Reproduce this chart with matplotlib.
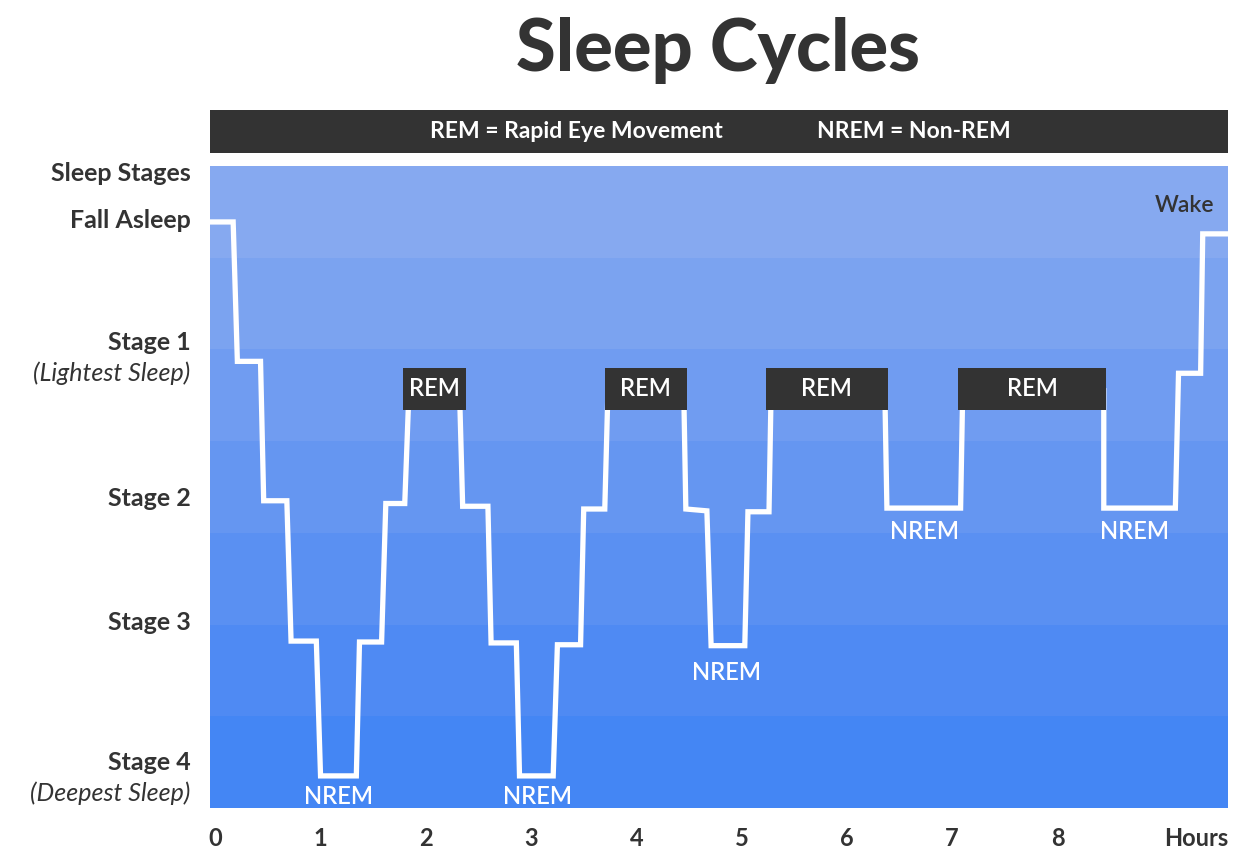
import matplotlib.pyplot as plt
from matplotlib.patches import Rectangle

plt.rcParams['font.family'] = ['Lato', 'DejaVu Sans']

# hypnogram: time in hours, depth 0 (top) .. 7 (bottom)
hours = [-0.05, 0.17, 0.21, 0.43, 0.46, 0.68, 0.72, 0.96, 1.00, 1.34, 1.37, 1.58, 1.62,
         1.80, 1.84, 2.32, 2.35, 2.59, 2.62, 2.86, 2.89, 3.21, 3.25, 3.47, 3.50, 3.70,
         3.73, 4.45, 4.47, 4.67, 4.71, 5.03, 5.06, 5.26, 5.28, 6.36, 6.38, 7.08, 7.10,
         8.44, 8.44, 9.12, 9.15, 9.36, 9.38, 9.62]
depth = [0.61, 0.61, 2.13, 2.13, 3.65, 3.65, 5.18, 5.18, 6.65, 6.65, 5.19, 5.19, 3.68,
         3.68, 2.45, 2.45, 3.71, 3.71, 5.20, 5.20, 6.65, 6.65, 5.22, 5.22, 3.74, 3.74,
         2.45, 2.45, 3.74, 3.76, 5.23, 5.23, 3.77, 3.77, 2.45, 2.45, 3.73, 3.73, 2.45,
         2.45, 3.73, 3.73, 2.26, 2.26, 0.74, 0.74]

rem_start = [1.78, 3.70, 5.23, 7.06]
rem_end = [2.38, 4.48, 6.39, 8.46]

nrem_x = [1.17, 3.06, 4.86, 6.74, 8.73]
nrem_y = [6.87, 6.87, 5.52, 3.98, 3.98]

stage_labels = ['Sleep Stages', 'Fall Asleep', 'Stage 1', '(Lightest Sleep)',
                'Stage 2', 'Stage 3', 'Stage 4', '(Deepest Sleep)']
stage_pos = [0.08, 0.59, 1.92, 2.26, 3.63, 4.98, 6.50, 6.84]
hour_ticks = [0, 1, 2, 3, 4, 5, 6, 7, 8]

band_colors = ['#86a9f0', '#7ba3f0', '#709cf1', '#6596f1', '#5a90f2', '#4f8af3', '#4486f4']

dark = '#333333'

fig = plt.figure(figsize=(12.51, 8.66), dpi=100)
ax = fig.add_axes([210 / 1251, 1 - 808 / 866, 1018 / 1251, 642 / 866])
ax.set_xlim(-0.05, 9.62)
ax.set_ylim(7, 0)
for s in ax.spines.values():
    s.set_visible(False)
ax.set_xticks([])
ax.set_yticks([])

for i, c in enumerate(band_colors):
    ax.axhspan(i, i + 1, color=c, lw=0, zorder=0)

ax.plot(hours, depth, color='white', lw=3.8, solid_joinstyle='miter', zorder=2)

for a, b in zip(rem_start, rem_end):
    ax.add_patch(Rectangle((a, 2.20), b - a, 0.46, color=dark, lw=0, zorder=3))
    ax.text((a + b) / 2, 2.43, 'REM', color='white', fontsize=17, weight='semibold',
            ha='center', va='center', zorder=4)

for x, y in zip(nrem_x, nrem_y):
    ax.text(x, y, 'NREM', color='white', fontsize=17, weight='semibold',
            ha='center', va='center')

ax.text(9.21, 0.43, 'Wake', color=dark, fontsize=16.5, weight='semibold',
        ha='center', va='center')

# stage labels on the left
ytr = ax.get_yaxis_transform()
for lab, y in zip(stage_labels, stage_pos):
    if lab.startswith('('):
        ax.text(-0.019, y, lab, transform=ytr, ha='right', va='center', fontsize=18,
                style='italic', weight='normal', color=dark)
    else:
        ax.text(-0.019, y, lab, transform=ytr, ha='right', va='center', fontsize=18,
                weight='bold', color=dark)

# hour labels
xtr = ax.get_xaxis_transform()
for h in hour_ticks:
    ax.text(h, -0.047, str(h), transform=xtr, ha='center', va='center',
            fontsize=17, weight='bold', color=dark)
ax.text(1.0, -0.047, 'Hours', transform=ax.transAxes, ha='right', va='center',
        fontsize=17, weight='bold', color=dark)

# header bar
fig.add_artist(Rectangle((210 / 1251, 1 - 153 / 866), 1018 / 1251, 43 / 866,
                         transform=fig.transFigure, color=dark, lw=0))
fig.text(576 / 1251, 1 - 132 / 866, 'REM = Rapid Eye Movement', color='white',
         fontsize=16.5, weight='bold', ha='center', va='center')
fig.text(914 / 1251, 1 - 132 / 866, 'NREM = Non-REM', color='white',
         fontsize=16.5, weight='bold', ha='center', va='center')

fig.text(718 / 1251, 1 - 71 / 866, 'Sleep Cycles', color=dark, fontsize=52,
         weight='black', ha='center', va='baseline')

fig.savefig('out.png', dpi=100)
